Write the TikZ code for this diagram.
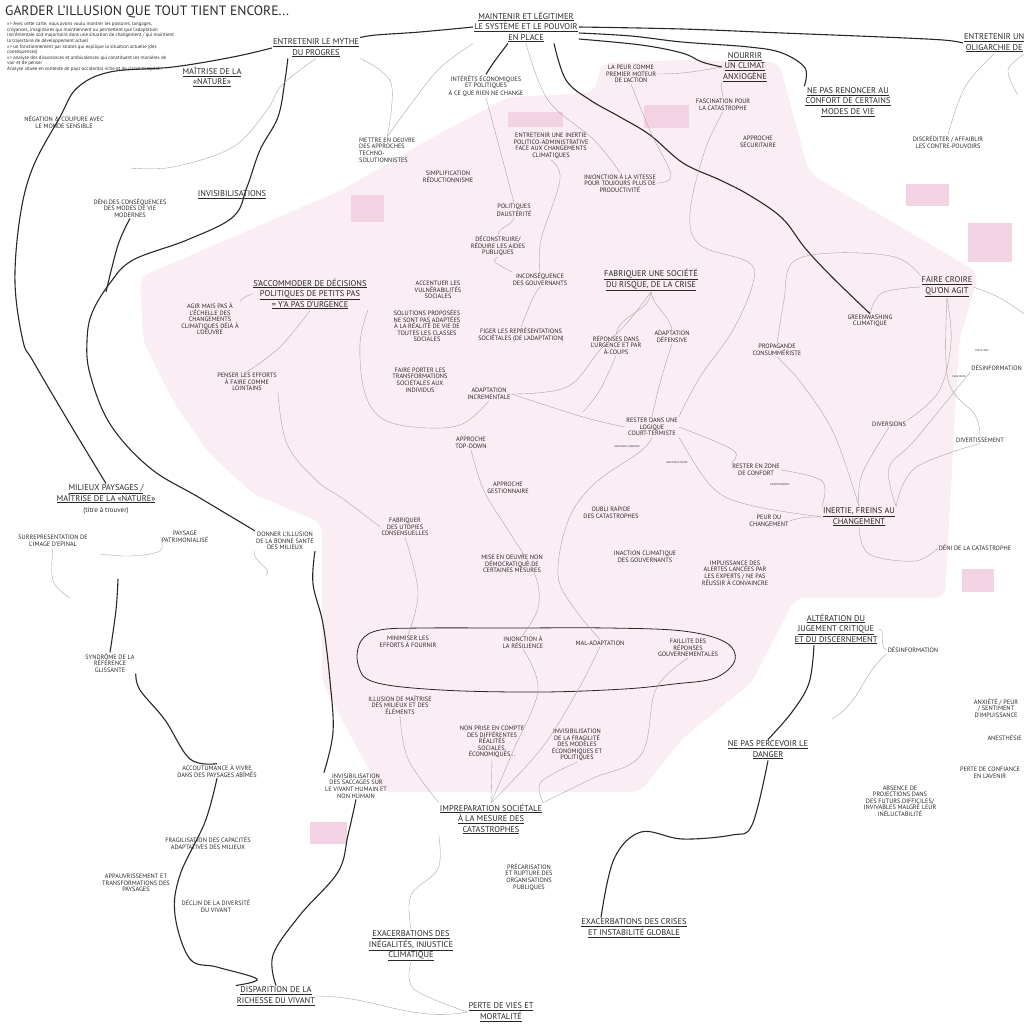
\documentclass[tikz,border=0pt]{standalone}
\usepackage{fontspec}
\setmainfont{PT Sans}

\definecolor{ink}{RGB}{40,40,40}
\definecolor{pinkbg}{RGB}{251,237,244}
\definecolor{boxpink}{RGB}{243,210,228}

\newcommand{\hdl}[1]{\underline{#1}}

\begin{document}
\begin{tikzpicture}[x=1pt,y=-1pt]
	% Styles for the map
	\tikzset{
		title/.style={font=\fontsize{13.6}{15}\selectfont, text=ink, inner sep=0pt},
		intro/.style={font=\fontsize{4.9}{5.6}\selectfont, text=ink, align=left, inner sep=0pt},
		theme/.style={font=\fontsize{8.4}{10.5}\selectfont, text=ink, align=center, inner sep=1pt},
		idea/.style={font=\fontsize{6.3}{6.6}\selectfont, text=ink, align=center, inner sep=1pt},
		tiny/.style={font=\fontsize{2.6}{3}\selectfont, text=ink, align=left, inner sep=0pt},
		thickl/.style={line width=1.1pt, draw=ink},
		thinl/.style={line width=0.35pt, draw=gray!75},
		pinkbox/.style={fill=boxpink, draw=none}
	}
	\useasboundingbox (0,0) rectangle (1024,1024);
	\clip (0,0) rectangle (1024,1024);
	
	% Pink zone
	\fill[pinkbg, rounded corners=10pt] (140,277) -- (342,190) -- (428,140) -- (508,97) -- (594,93) -- (601,63) -- (683,60) -- (779,62) -- (809,173) -- (979,273) -- (959,342) -- (945,598) -- (795,598) -- (752,682) -- (682,739) -- (640,792) -- (381,792) -- (322,683) -- (322,523) -- (253,494) -- (207,451) -- (173,401) -- (143,341) -- cycle;
	
	% Highlight boxes
	\fill[pinkbox] (508,112) rectangle (563,127);
	\fill[pinkbox] (351,195) rectangle (384,222);
	\fill[pinkbox] (644,105) rectangle (689,128);
	\fill[pinkbox] (906,184) rectangle (949,206);
	\fill[pinkbox] (968,223) rectangle (1012,262);
	\fill[pinkbox] (962,569) rectangle (994,592);
	\fill[pinkbox] (310,822) rectangle (347,844);
	
	% Title and intro
	\node[title, anchor=north west] (titre) at (5,6) {GARDER L'ILLUSION QUE TOUT TIENT ENCORE...};
	\node[intro, anchor=north west] (intro) at (7,22) {>>> Avec cette carte, nous avons voulu montrer les postures, langages,\\croyances, imaginaires qui maintiennent ou permettent que l'adaptation\\incrémentale soit majoritaire dans une situation de changement / qui maintient\\la trajectoire de développement actuel\\>>> un fonctionnement par strates qui explique la situation actuelle (des\\conséquences)\\>>> analyse des dissonances et ambivalences qui constituent les manières de\\voir et de penser\\Analyse située en contexte de pays occidental riche et de climat tempéré.};
	
	% Main themes (underlined)
	\node[theme] (mythe) at (316,48) {\hdl{ENTRETENIR LE MYTHE}\\\hdl{DU PROGRES}};
	\node[theme] (maintenir) at (526,27) {\hdl{MAINTENIR ET LÉGITIMER}\\\hdl{LE SYSTÈME ET LE POUVOIR}\\\hdl{EN PLACE}};
	\node[theme] (nourrir) at (745,67) {\hdl{NOURRIR}\\\hdl{UN CLIMAT}\\\hdl{ANXIOGÈNE}};
	\node[theme] (confort) at (848,102) {\hdl{NE PAS RENONCER AU}\\\hdl{CONFORT DE CERTAINS}\\\hdl{MODES DE VIE}};
	\node[theme, anchor=west] (oligarchie) at (963,43) {\hdl{ENTRETENIR UN}\\\hdl{OLIGARCHIE DE}};
	\node[theme] (maitrise) at (212,77) {\hdl{MAÎTRISE DE LA}\\\hdl{«NATURE»}};
	\node[theme] (invisib) at (232,195) {\hdl{INVISIBILISATIONS}};
	\node[theme] (accommoder) at (310,294) {\hdl{S'ACCOMMODER DE DÉCISIONS}\\\hdl{POLITIQUES DE PETITS PAS}\\\hdl{= Y'A PAS D'URGENCE}};
	\node[theme] (fabriquer) at (651,280) {\hdl{FABRIQUER UNE SOCIÉTÉ}\\\hdl{DU RISQUE, DE LA CRISE}};
	\node[theme] (fairecroire) at (947,287) {\hdl{FAIRE CROIRE}\\\hdl{QU'ON AGIT}};
	\node[theme] (inertie) at (859,517) {\hdl{INERTIE, FREINS AU}\\\hdl{CHANGEMENT}};
	\node[theme] (alteration) at (836,629) {\hdl{ALTÉRATION DU}\\\hdl{JUGEMENT CRITIQUE}\\\hdl{ET DU DISCERNEMENT}};
	\node[theme] (danger) at (768,750) {\hdl{NE PAS PERCEVOIR LE}\\\hdl{DANGER}};
	\node[theme] (milieux) at (106,494) {\hdl{MILIEUX PAYSAGES /}\\\hdl{MAÎTRISE DE LA «NATURE»}};
	\node[idea, font=\fontsize{7}{7.5}\selectfont] (atrouver) at (106,511) {(titre à trouver)};
	\node[theme] (impreparation) at (491,819) {\hdl{IMPREPARATION SOCIÉTALE}\\\hdl{À LA MESURE DES}\\\hdl{CATASTROPHES}};
	\node[theme] (inegalites) at (411,946) {\hdl{EXACERBATIONS DES}\\\hdl{INÉGALITÉS, INJUSTICE}\\\hdl{CLIMATIQUE}};
	\node[theme] (crises) at (634,928) {\hdl{EXACERBATIONS DES CRISES}\\\hdl{ET INSTABILITÉ GLOBALE}};
	\node[theme] (pertevies) at (501,1012) {\hdl{PERTE DE VIES ET}\\\hdl{MORTALITÉ}};
	\node[theme] (disparition) at (276,996) {\hdl{DISPARITION DE LA}\\\hdl{RICHESSE DU VIVANT}};
	
	% Secondary ideas
	\node[idea] (negation) at (64,122) {NÉGATION \& COUPURE AVEC\\LE MONDE SENSIBLE};
	\node[idea] (deni) at (130,208) {DÉNI DES CONSÉQUENCES\\DES MODES DE VIE\\MODERNES};
	\node[idea, align=left, anchor=west] (techno) at (358,150) {METTRE EN OEUVRE\\DES APPROCHES\\TECHNO-\\SOLUTIONNISTES};
	\node[idea] (interets) at (486,86) {INTÉRÊTS ÉCONOMIQUES\\ET POLITIQUES\\À CE QUE RIEN NE CHANGE};
	\node[idea] (inertiepol) at (551,146) {ENTRETENIR UNE INERTIE\\POLITICO-ADMINISTRATIVE\\FACE AUX CHANGEMENTS\\CLIMATIQUES};
	\node[idea] (simplif) at (448,177) {SIMPLIFICATION\\RÉDUCTIONNISME};
	\node[idea] (austerite) at (514,210) {POLITIQUES\\D'AUSTÉRITÉ};
	\node[idea] (vitesse) at (620,183) {INJONCTION À LA VITESSE\\POUR TOUJOURS PLUS DE\\PRODUCTIVITÉ};
	\node[idea] (peur) at (631,74) {LA PEUR COMME\\PREMIER MOTEUR\\DE L'ACTION};
	\node[idea] (fascination) at (723,105) {FASCINATION POUR\\LA CATASTROPHE};
	\node[idea] (securitaire) at (758,142) {APPROCHE\\SÉCURITAIRE};
	\node[idea] (discrediter) at (948,142) {DISCRÉDITER / AFFAIBLIR\\LES CONTRE-POUVOIRS};
	\node[idea] (deconstruire) at (498,246) {DÉCONSTRUIRE/\\RÉDUIRE LES AIDES\\PUBLIQUES};
	\node[idea] (vulnerab) at (438,290) {ACCENTUER LES\\VULNÉRABILITÉS\\SOCIALES};
	\node[idea] (inconsequence) at (540,279) {INCONSÉQUENCE\\DES GOUVERNANTS};
	\node[idea] (solutions) at (427,326) {SOLUTIONS PROPOSÉES\\NE SONT PAS ADAPTÉES\\À LA RÉALITÉ DE VIE DE\\TOUTES LES CLASSES\\SOCIALES};
	\node[idea] (figer) at (521,335) {FIGER LES REPRÉSENTATIONS\\SOCIÉTALES (DE L'ADAPTATION)};
	\node[idea] (agir) at (210,319) {AGIR MAIS PAS À\\L'ÉCHELLE DES\\CHANGEMENTS\\CLIMATIQUES DÉJÀ À\\L'OEUVRE};
	\node[idea] (lointains) at (247,382) {PENSER LES EFFORTS\\À FAIRE COMME\\LOINTAINS};
	\node[idea] (urgence) at (616,345) {RÉPONSES DANS\\L'URGENCE ET PAR\\À-COUPS};
	\node[idea] (defensive) at (672,337) {ADAPTATION\\DÉFENSIVE};
	\node[idea] (individus) at (420,380) {FAIRE PORTER LES\\TRANSFORMATIONS\\SOCIÉTALES AUX\\INDIVIDUS};
	\node[idea] (incrementale) at (489,394) {ADAPTATION\\INCREMENTALE};
	\node[idea] (propagande) at (777,350) {PROPAGANDE\\CONSUMMÉRISTE};
	\node[idea] (greenwashing) at (870,321) {GREENWASHING\\CLIMATIQUE};
	\node[idea] (courtterme) at (652,427) {RESTER DANS UNE\\LOGIQUE\\COURT-TERMISTE};
	\node[idea] (topdown) at (471,443) {APPROCHE\\TOP-DOWN};
	\node[idea] (gestionnaire) at (508,488) {APPROCHE\\GESTIONNAIRE};
	\node[idea] (oubli) at (611,513) {OUBLI RAPIDE\\DES CATASTROPHES};
	\node[idea] (zoneconfort) at (756,470) {RESTER EN ZONE\\DE CONFORT};
	\node[idea] (diversions) at (889,424) {DIVERSIONS};
	\node[idea] (divertissement) at (980,440) {DIVERTISSEMENT};
	\node[idea, anchor=east] (desinfo) at (1023,368) {DÉSINFORMATION};
	\node[idea] (peurchang) at (769,521) {PEUR DU\\CHANGEMENT};
	\node[idea] (impuissance) at (735,573) {IMPUISSANCE DES\\ALERTES LANCÉES PAR\\LES EXPERTS / NE PAS\\RÉUSSIR À CONVAINCRE};
	\node[idea] (denicata) at (975,548) {DÉNI DE LA CATASTROPHE};
	\node[idea] (desinfob) at (913,650) {DÉSINFORMATION};
	\node[idea] (anxiete) at (996,708) {ANXIÉTÉ / PEUR\\/ SENTIMENT\\D'IMPUISSANCE};
	\node[idea, anchor=east] (anesthesie) at (1023,738) {ANESTHÉSIE};
	\node[idea] (confiance) at (990,773) {PERTE DE CONFIANCE\\EN L'AVENIR};
	\node[idea] (absence) at (900,801) {ABSENCE DE\\PROJECTIONS DANS\\DES FUTURS DIFFICILES/\\INVIVABLES MALGRÉ LEUR\\INÉLUCTABILITÉ};
	\node[idea] (inaction) at (645,557) {INACTION CLIMATIQUE\\DES GOUVERNANTS};
	\node[idea] (utopies) at (405,527) {FABRIQUER\\DES UTOPIES\\CONSENSUELLES};
	\node[idea] (nondemo) at (512,564) {MISE EN OEUVRE NON\\DÉMOCRATIQUE DE\\CERTAINES MESURES};
	\node[idea] (minimiser) at (408,642) {MINIMISER LES\\EFFORTS À FOURNIR};
	\node[idea] (resilience) at (523,642) {INJONCTION À\\LA RÉSILIENCE};
	\node[idea] (maladapt) at (600,643) {MAL-ADAPTATION};
	\node[idea] (faillite) at (688,648) {FAILLITE DES\\RÉPONSES\\GOUVERNEMENTALES};
	\node[idea] (illusion) at (400,705) {ILLUSION DE MAÎTRISE\\DES MILIEUX ET DES\\ÉLÉMENTS};
	\node[idea] (nonprise) at (492,742) {NON PRISE EN COMPTE\\DES DIFFÉRENTES\\RÉALITÉS\\SOCIALES,\\ÉCONOMIQUES...};
	\node[idea] (fragilite) at (577,745) {INVISIBILISATION\\DE LA FRAGILITÉ\\DES MODÈLES\\ÉCONOMIQUES ET\\POLITIQUES};
	\node[idea] (saccages) at (356,786) {INVISIBILISATION\\DES SACCAGES SUR\\LE VIVANT HUMAIN ET\\NON HUMAIN};
	\node[idea] (precarisation) at (529,877) {PRÉCARISATION\\ET RUPTURE DES\\ORGANISATIONS\\PUBLIQUES};
	\node[idea] (bonnesante) at (285,541) {DONNER L'ILLUSION\\DE LA BONNE SANTÉ\\DES MILIEUX};
	\node[idea] (epinal) at (53,541) {SURREPRESENTATION DE\\L'IMAGE D'EPINAL};
	\node[idea] (patrimoine) at (185,537) {PAYSAGE\\PATRIMONIALISÉ};
	\node[idea] (syndrome) at (110,663) {SYNDRÔME DE LA\\RÉFÉRENCE\\GLISSANTE};
	\node[idea] (accoutumance) at (217,771) {ACCOUTUMANCE À VIVRE\\DANS DES PAYSAGES ABÎMÉS};
	\node[idea] (capacites) at (208,843) {FRAGILISATION DES CAPACITÉS\\ADAPTATIVES DES MILIEUX};
	\node[idea] (appauvr) at (136,883) {APPAUVRISSEMENT ET\\TRANSFORMATIONS DES\\PAYSAGES};
	\node[idea] (declin) at (216,906) {DÉCLIN DE LA DIVERSITÉ\\DU VIVANT};
	
	% Small notes
	\node[tiny] (populisme) at (982,351) {POPULISME};
	\node[tiny] (fakenews) at (959,377) {FAKE NEWS};
	\node[tiny] (divsmall) at (780,485) {DIVERTISSEMENT};
	\node[tiny] (agirurg) at (627,447) {AGIR DANS L'URGENCE};
	\node[tiny] (agircoups) at (677,462) {AGIR PAR À-COUPS};
	
	% Free ends
	\coordinate (jdeni) at (106,292);
	\coordinate (jpaysage) at (118,579);
	\coordinate (jnature) at (130,168);
	\coordinate (jurgence) at (583,412);
	\coordinate (jright) at (1030,318);
	\coordinate (joli) at (1018,95);
	\coordinate (jsante) at (266,575);
	\coordinate (jdanger) at (832,719);
	
	% Thick connectors
	\draw[thickl] plot[smooth, tension=.6] coordinates {(mythe.west) (233,57) (173,67) (110,72) (77,88) (60,117) (33,167) (20,217) (15,283) (23,341) (33,361) (70,424) (milieux.north)};
	\draw[thickl] plot[smooth, tension=.6] coordinates {([xshift=16pt]mythe.south west) (285,80) (278,117) (260,150) (247,187) (233,217) (187,240) (133,260) (110,283) (92,313) (87,341) (90,374) (110,424) (150,468) (200,498) (bonnesante.north west)};
	\draw[thickl] plot[smooth, tension=.6] coordinates {(deni.south) (118,245) (jdeni)};
	\draw[thickl] plot[smooth, tension=.6] coordinates {(bonnesante.south east) (313,584) (323,624) (330,681) (333,732) (saccages.north west)};
	\draw[thickl] plot[smooth, tension=.6] coordinates {(saccages.south) (348,835) (338,872) (300,915) (273,955) (disparition.north)};
	\draw[thickl] plot[smooth, tension=.6] coordinates {(jpaysage) (116,610) (syndrome.north)};
	\draw[thickl] plot[smooth, tension=.6] coordinates {(syndrome.south east) (140,690) (165,720) (190,759) (accoutumance.north)};
	\draw[thickl] plot[smooth, tension=.6] coordinates {(accoutumance.south) (205,822) (180,875) (175,915) (190,959) (217,967) (257,979) (disparition.north west)};
	\draw[thickl] plot[smooth, tension=.6] coordinates {(maintenir.west) (420,32) (376,35) (mythe.north east)};
	\draw[thickl] plot[smooth, tension=.6] coordinates {(maintenir.east) (682,29) (782,33) (882,37) (943,40) (oligarchie.west)};
	\draw[thickl] plot[smooth, tension=.6] coordinates {([yshift=-6pt]maintenir.east) (631,36) (682,42) (749,47) (782,53) (805,68) (confort.north west)};
	\draw[thickl] plot[smooth, tension=.6] coordinates {([yshift=-12pt]maintenir.east) (641,45) (682,53) (702,62) (nourrir.west)};
	\draw[thickl] plot[smooth, tension=.6] coordinates {([xshift=-18pt]maintenir.south) (494,62) (interets.north)};
	\draw[thickl] plot[smooth, tension=.6] coordinates {([xshift=28pt]maintenir.south) (566,80) (590,100) (620,117) (650,135) (683,163) (720,180) (749,195) (782,218) (805,248) (832,277) (greenwashing.north)};
	\draw[thickl] plot[smooth, tension=.6] coordinates {([xshift=-22pt]alteration.south) (809,683) (792,712) (danger.north)};
	\draw[thickl] plot[smooth, tension=.6] coordinates {(danger.south) (752,825) (732,835) (682,839) (641,832) (614,859) ([xshift=-33pt]crises.north)};
	
	% Loop round the weak responses
	\draw[line width=0.8pt, draw=ink] plot[smooth cycle, tension=.6] coordinates {(361,641) (380,630) (424,628) (508,628) (608,628) (683,631) (725,642) (735,660) (715,678) (674,684) (624,689) (541,692) (441,690) (374,682) (358,664)};
	
	% Thin connectors
	\draw[thinl] plot[smooth, tension=.6] coordinates {(mythe.south) (282,85) (267,110) (233,147) (173,167) (jnature)};
	\draw[thinl] plot[smooth, tension=.6] coordinates {(maintenir.south west) (441,67) (414,100) (techno.north)};
	\draw[thinl] plot[smooth, tension=.6] coordinates {(mythe.south east) (391,83) (techno.north)};
	\draw[thinl] plot[smooth, tension=.6] coordinates {(interets.south) (500,150) (austerite.north)};
	\draw[thinl] (austerite.south) to[out=-100,in=80] (deconstruire.north);
	\draw[thinl] plot[smooth, tension=.6] coordinates {(maintenir.south) (548,100) (594,140) (vitesse.north)};
	\draw[thinl] (peur.east) to[out=0,in=190] (nourrir.west);
	\draw[thinl] plot[smooth, tension=.6] coordinates {(peur.south) (651,133) (671,175) (vitesse.east)};
	\draw[thinl] (nourrir.south west) to[out=-120,in=80] (fascination.north);
	\draw[thinl] plot[smooth, tension=.6] coordinates {(fascination.south) (705,150) (690,213) (700,245) (748,262) (753,283) (733,330) (700,377) (courtterme.north east)};
	\draw[thinl] plot[smooth, tension=.6] coordinates {(deconstruire.south) (495,262) (inconsequence.north west)};
	\draw[thinl] plot[smooth, tension=.6] coordinates {(inertiepol.south) (560,180) (541,240) (inconsequence.north)};
	\draw[thinl] plot[smooth, tension=.6] coordinates {(inconsequence.south) (532,300) (figer.north)};
	\draw[thinl] plot[smooth, tension=.6] coordinates {(fabriquer.south) (627,323) (600,350) (567,387) (incrementale.east)};
	\draw[thinl] (fabriquer.south) to[out=-95,in=80] (urgence.north);
	\draw[thinl] (fabriquer.south) to[out=-80,in=100] (defensive.north);
	\draw[thinl] plot[smooth, tension=.6] coordinates {(defensive.south) (660,383) (courtterme.north)};
	\draw[thinl] plot[smooth, tension=.6] coordinates {(urgence.south) (600,390) (jurgence)};
	\draw[thinl] plot[smooth, tension=.6] coordinates {(incrementale.east) (583,417) (courtterme.west)};
	\draw[thinl] plot[smooth, tension=.6] coordinates {(courtterme.east) (733,450) (zoneconfort.north west)};
	\draw[thinl] plot[smooth, tension=.6] coordinates {(zoneconfort.east) (822,481) (inertie.north west)};
	\draw[thinl] plot[smooth, tension=.6] coordinates {(propagande.south) (802,384) (834,434) (inertie.north)};
	\draw[thinl] plot[smooth, tension=.6] coordinates {(diversions.south) (862,474) (inertie.north)};
	\draw[thinl] plot[smooth, tension=.6] coordinates {(fairecroire.south) (951,342) (939,391) (diversions.north east)};
	\draw[thinl] plot[smooth, tension=.6] coordinates {(desinfo.south west) (915,440) (889,468) (inertie.north east)};
	\draw[thinl] plot[smooth, tension=.6] coordinates {(divertissement.south) (915,468) (inertie.north east)};
	\draw[thinl] plot[smooth, tension=.6] coordinates {(fairecroire.south) (948,380) (975,415) (divertissement.north)};
	\draw[thinl] plot[smooth, tension=.6] coordinates {(fairecroire.east) (1000,298) (jright)};
	\draw[thinl] plot[smooth, tension=.6] coordinates {(fairecroire.west) (882,293) (greenwashing.north)};
	\draw[thinl] plot[smooth, tension=.6] coordinates {(propagande.north) (784,300) (792,263) (832,253) (895,257) (fairecroire.north west)};
	\draw[thinl] (inertie.west) to[out=180,in=20] (peurchang.east);
	\draw[thinl] plot[smooth, tension=.6] coordinates {(inertie.west) (749,505) (712,487) (courtterme.south east)};
	\draw[thinl] plot[smooth, tension=.6] coordinates {(inertie.south) (869,554) (915,561) (denicata.west)};
	\draw[thinl] plot[smooth, tension=.6] coordinates {(oligarchie.south) (965,87) (discrediter.north)};
	\draw[thinl] plot[smooth, tension=.6] coordinates {(oligarchie.south east) (1008,70) (joli)};
	\draw[thinl] (agir.north east) to[out=60,in=200] (accommoder.west);
	\draw[thinl] plot[smooth, tension=.6] coordinates {(accommoder.south) (280,347) (lointains.north)};
	\draw[thinl] plot[smooth, tension=.6] coordinates {(accommoder.south east) (360,343) (364,390) (380,417) (413,427) (460,425) (incrementale.south)};
	\draw[thinl] plot[smooth, tension=.6] coordinates {(lointains.south east) (287,444) (317,481) (342,498) (utopies.west)};
	\draw[thinl] plot[smooth, tension=.6] coordinates {(utopies.south) (418,592) (minimiser.north)};
	\draw[thinl] plot[smooth, tension=.6] coordinates {(topdown.south) (484,491) (508,530) (535,575) (538,608) (resilience.north)};
	\draw[thinl] plot[smooth, tension=.6] coordinates {(courtterme.south) (641,451) (594,484) (568,521) (558,575) (574,608) (maladapt.north)};
	\draw[thinl] plot[smooth, tension=.6] coordinates {(faillite.south) (656,689) (641,755) (591,779) (impreparation.north east)};
	\draw[thinl] plot[smooth, tension=.6] coordinates {(illusion.south) (408,759) (impreparation.north west)};
	\draw[thinl] (nonprise.south) -- (impreparation.north);
	\draw[thinl] plot[smooth, tension=.6] coordinates {(maladapt.south) (578,690) (541,749) (impreparation.north)};
	\draw[thinl] plot[smooth, tension=.6] coordinates {(resilience.south) (538,690) (514,749) (impreparation.north)};
	\draw[thinl] plot[smooth, tension=.6] coordinates {(fragilite.south) (541,782) (impreparation.north east)};
	\draw[thinl] plot[smooth, tension=.6] coordinates {(impreparation.south west) (438,869) (411,895) (inegalites.north)};
	\draw[thinl] plot[smooth, tension=.6] coordinates {(inegalites.south) (414,989) (pertevies.west)};
	\draw[thinl] (disparition.east) to[out=0,in=190] (pertevies.west);
	\draw[thinl] (bonnesante.south west) to[out=-120,in=30] (jsante);
	\draw[thinl] (alteration.east) to[out=0,in=170] (desinfob.west);
	\draw[thinl] (desinfob.south west) to[out=-140,in=30] (jdanger);
	\draw[thinl] plot[smooth, tension=.6] coordinates {(patrimoine.west) (160,551) (130,556) (100,554)};
	\draw[thinl] plot[smooth, tension=.6] coordinates {(epinal.south) (53,581) (70,598)};
\end{tikzpicture}
\end{document}
